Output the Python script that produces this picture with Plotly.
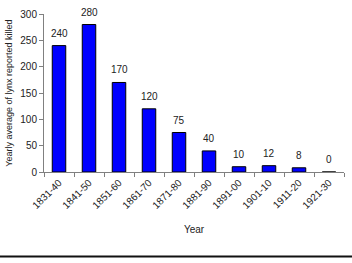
import plotly.graph_objects as go

periods = ["1831-40", "1841-50", "1851-60", "1861-70", "1871-80",
           "1881-90", "1891-00", "1901-10", "1911-20", "1921-30"]
lynx_killed = [240, 280, 170, 120, 75, 40, 10, 12, 8, 0]

font_family = "Liberation Sans, Arial, sans-serif"

fig = go.Figure(go.Bar(
    x=periods,
    y=lynx_killed,
    marker=dict(color="#0000FF", line=dict(color="#000000", width=1)),
    cliponaxis=False,
))

for p, v in zip(periods, lynx_killed):
    fig.add_annotation(x=p, y=v, text=str(v), showarrow=False,
                       yanchor="bottom", yshift=5,
                       font=dict(size=10, color="#222222", family=font_family))

fig.update_layout(
    width=352, height=263,
    margin=dict(l=44, r=8, t=11, b=91),
    paper_bgcolor="white", plot_bgcolor="white",
    bargap=0.55,
    showlegend=False,
    font=dict(family=font_family, size=10, color="#222222"),
    xaxis=dict(
        type="category",
        tickson="boundaries",
        ticks="outside", ticklen=4, tickcolor="#808080",
        showline=True, linecolor="#808080", linewidth=1,
        tickangle=-45,
        tickfont=dict(size=10),
        title=dict(text="Year", font=dict(size=10), standoff=16),
        showgrid=False,
    ),
    yaxis=dict(
        range=[0, 300], dtick=50,
        ticks="outside", ticklen=4, tickcolor="#808080",
        showline=True, linecolor="#808080", linewidth=1,
        tickfont=dict(size=10),
        title=dict(text="Yearly average of lynx reported killed", font=dict(size=9), standoff=6),
        showgrid=False, zeroline=False,
    ),
)

# horizontal rule near the bottom of the figure
fig.add_shape(type="line", xref="paper", yref="paper",
              x0=-44/300, x1=1+8/300, y0=-86/161, y1=-86/161,
              line=dict(color="#111111", width=2))

fig.write_html("out.html")
